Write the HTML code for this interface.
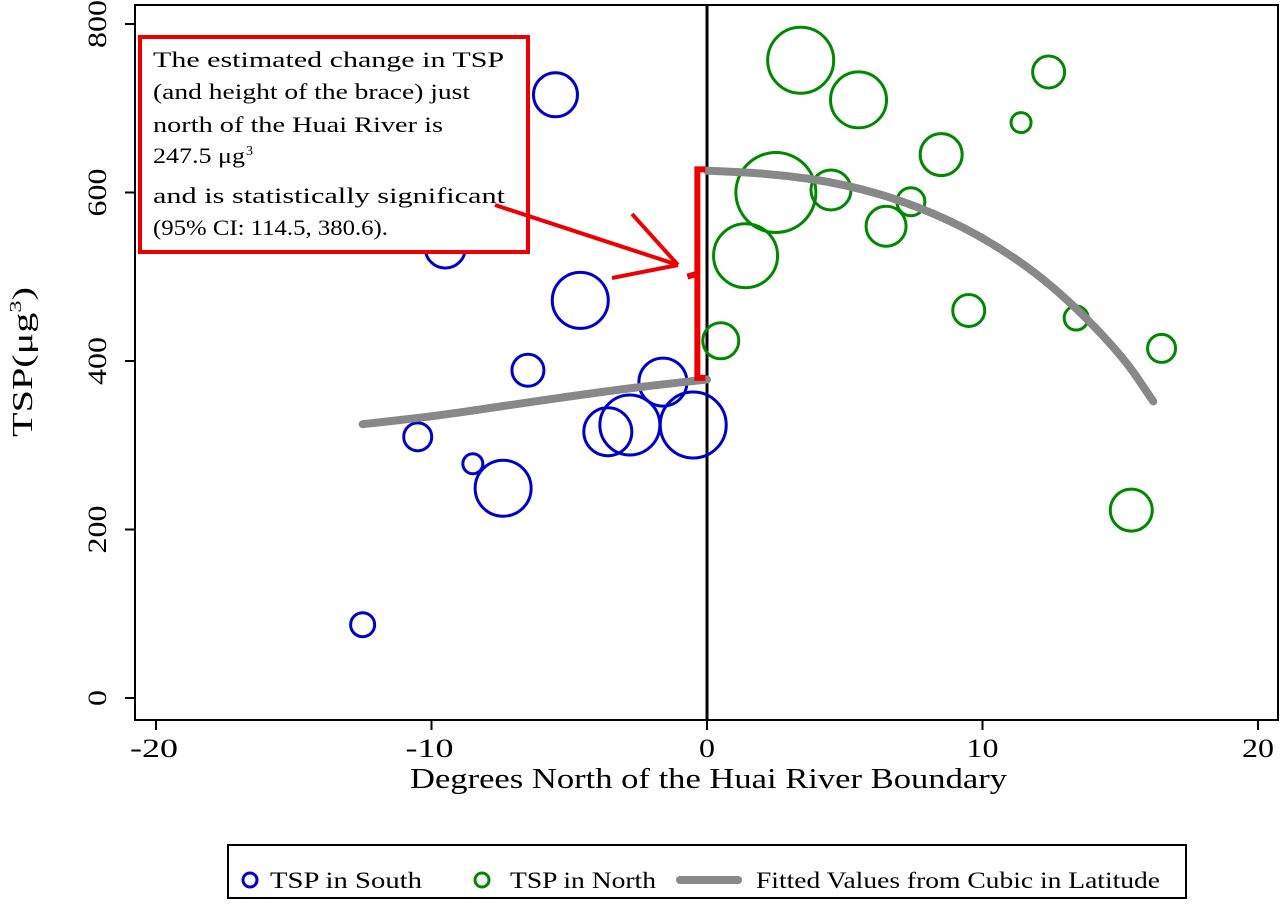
<!DOCTYPE html>
<html><head><meta charset="utf-8"><style>
body{margin:0;background:#fff;font-family:"Liberation Serif",serif;}
svg text{font-family:"Liberation Serif",serif;}
</style></head><body>
<svg width="1280" height="911" id="c">
<rect x="135" y="5" width="1143" height="715" fill="none" stroke="#000" stroke-width="2"/>
<g id="marks"></g>
<text x="410" y="788" font-size="28" textLength="597" lengthAdjust="spacingAndGlyphs">Degrees North of the Huai River Boundary</text>
<text transform="translate(32,362) rotate(-90)" text-anchor="middle" font-size="28" textLength="150" lengthAdjust="spacingAndGlyphs">TSP(μg<tspan font-size="17" dy="-11">3</tspan><tspan dy="11">)</tspan></text>
<g>
<rect x="140" y="37" width="388" height="215" fill="#fff" stroke="#e00" stroke-width="4"/>
<text font-size="22">
<tspan x="153" y="67" textLength="350" lengthAdjust="spacingAndGlyphs">The estimated change in TSP</tspan>
<tspan x="153" y="99" textLength="317" lengthAdjust="spacingAndGlyphs">(and height of the brace) just</tspan>
<tspan x="153" y="132" textLength="290" lengthAdjust="spacingAndGlyphs">north of the Huai River is</tspan>
</text>
<text x="153" y="163" font-size="22" textLength="92" lengthAdjust="spacingAndGlyphs">247.5 μg</text>
<text x="246" y="155" font-size="14">3</text>
<text font-size="22">
<tspan x="153" y="203" textLength="352" lengthAdjust="spacingAndGlyphs">and is statistically significant</tspan>
<tspan x="153" y="235" textLength="235" lengthAdjust="spacingAndGlyphs">(95% CI: 114.5, 380.6).</tspan>
</text>
</g>
<g stroke="#e00" stroke-width="4" fill="none">
<line x1="495" y1="205" x2="678" y2="265"/>
<line x1="612" y1="278" x2="678" y2="265"/>
<line x1="632" y1="214" x2="678" y2="265"/>
</g>
<g>
<rect x="228" y="845" width="958" height="53" fill="#fff" stroke="#000" stroke-width="2"/>
<circle cx="250" cy="880" r="7" fill="none" stroke="#00c" stroke-width="3"/>
<text x="270" y="888" font-size="23" textLength="152" lengthAdjust="spacingAndGlyphs">TSP in South</text>
<circle cx="482" cy="880" r="7" fill="none" stroke="#080" stroke-width="3"/>
<text x="510" y="888" font-size="23" textLength="146" lengthAdjust="spacingAndGlyphs">TSP in North</text>
<line x1="680" y1="880" x2="738" y2="880" stroke="#888" stroke-width="8" stroke-linecap="round"/>
<text x="756" y="888" font-size="23" textLength="404" lengthAdjust="spacingAndGlyphs">Fitted Values from Cubic in Latitude</text>
</g>
</svg>
<script>
const xTicks=[-20,-10,0,10,20];
const yTicks=[0,200,400,600,800];
const southX=[-5.5,-9.5,-4.6,-6.5,-1.6,-3.6,-2.8,-0.5,-10.5,-8.5,-7.4,-12.5];
const southY=[716,534,472,389,375,316,324,324,310,278,249,87];
const southR=[22,20,28,16,24,24,30,33,14,10,28,12];
const northX=[3.4,5.5,12.4,11.4,8.5,2.5,4.5,7.4,6.5,1.4,9.5,13.4,0.5,16.5,15.4];
const northY=[757,710,743,683,645,600,603,589,560,525,460,451,424,415,223];
const northR=[33,28,16,10,21,40,20,14,20,32,16,12,18,14,21];
const fitSouthX=[-12.5,-10,-7.5,-5,-2.5,0];
const fitSouthY=[325,334,346,358,369,378];
const fitNorthX=[0,2.5,5,7.5,10,12.5,15,16.2];
const fitNorthY=[626,622,610,586,548,492,410,352];
const braceLow=380, braceHigh=627.5;
const sx=v=>707+v*27.55, sy=v=>698-v*0.8425;
const NS="http://www.w3.org/2000/svg", g=document.getElementById('marks');
function mk(t,a){const e=document.createElementNS(NS,t);for(const k in a)e.setAttribute(k,a[k]);g.appendChild(e);return e;}
xTicks.forEach(v=>{const l=mk('line',{x1:sx(v),x2:sx(v),y1:720,y2:730,stroke:'#000','stroke-width':2});


const s=String(v);
const t=mk('text',{x:sx(v)-(s.length*16)/2-(v<0?2:0),y:757,'font-size':26,textLength:s.length*16,lengthAdjust:'spacingAndGlyphs'});t.textContent=s;

});
yTicks.forEach(v=>{const l=mk('line',{x1:125,x2:135,y1:sy(v),y2:sy(v),stroke:'#000','stroke-width':2});


const s=String(v);
const t=mk('text',{transform:`translate(106,${sy(v)+s.length*8}) rotate(-90)`,'font-size':26,textLength:s.length*16,lengthAdjust:'spacingAndGlyphs'});t.textContent=s;

});
const v0=mk('line',{x1:707,x2:707,y1:5,y2:720,stroke:'#000','stroke-width':3});


southX.forEach((x,i)=>{const c=mk('circle',{cx:sx(x),cy:sy(southY[i]),r:southR[i],fill:'none',stroke:'#00c','stroke-width':3});

});
northX.forEach((x,i)=>{const c=mk('circle',{cx:sx(x),cy:sy(northY[i]),r:northR[i],fill:'none',stroke:'#080','stroke-width':3});

});
function smooth(xs,ys){let d=`M${sx(xs[0])},${sy(ys[0])}`;for(let i=1;i<xs.length;i++){const x0=sx(xs[i-1]),y0=sy(ys[i-1]),x1=sx(xs[i]),y1=sy(ys[i]);const xm=(x0+x1)/2,ym=(y0+y1)/2;d+=i===1?` L${xm},${ym}`:` Q${x0},${y0} ${xm},${ym}`;}d+=` L${sx(xs[xs.length-1])},${sy(ys[ys.length-1])}`;return d;}
const p1=mk('path',{d:smooth(fitSouthX,fitSouthY),fill:'none',stroke:'#888','stroke-width':8,'stroke-linecap':'round'});


const p2=mk('path',{d:smooth(fitNorthX,fitNorthY),fill:'none',stroke:'#888','stroke-width':8,'stroke-linecap':'round'});


const bx=sx(-0.35), mid=sy((braceLow+braceHigh)/2);
const b=mk('path',{d:`M${bx+8},${sy(braceHigh)} L${bx},${sy(braceHigh)} L${bx},${mid} L${bx-10},${mid+3} M${bx},${mid} L${bx},${sy(braceLow)} L${bx+8},${sy(braceLow)}`,fill:'none',stroke:'#e00','stroke-width':6});


</script>
</body></html>
